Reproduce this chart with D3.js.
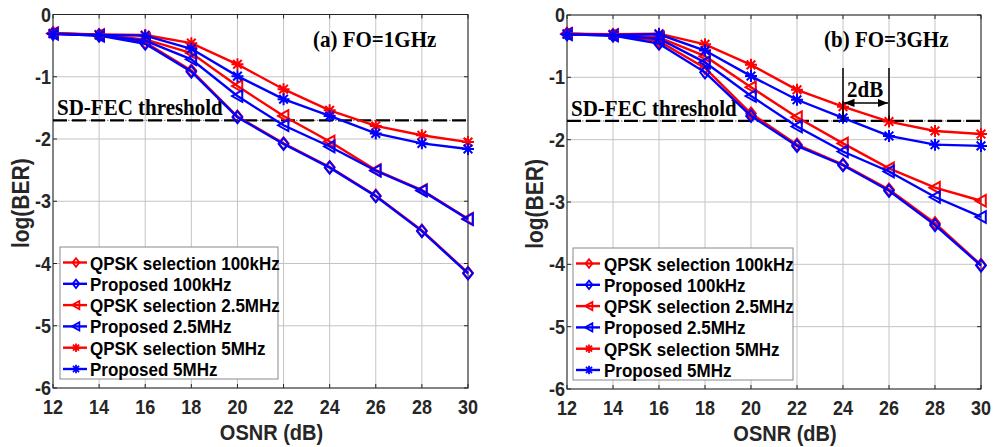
<!DOCTYPE html>
<html>
<head>
<meta charset="utf-8">
<script src="https://cdn.jsdelivr.net/npm/d3@7"></script>
<style>
  body { margin: 0; background: #fff; }
  svg { display: block; }
  .tick-label { font-family: "Liberation Sans", Arial, sans-serif; font-weight: bold; font-size: 18px; fill: #262626; }
  .axis-label { font-family: "Liberation Sans", Arial, sans-serif; font-weight: bold; fill: #262626; }
  .serif { font-family: "Liberation Serif", "Times New Roman", serif; font-weight: bold; font-size: 21px; fill: #000; }
  .legend-text { font-family: "Liberation Sans", Arial, sans-serif; font-weight: bold; font-size: 17px; fill: #000; }
</style>
</head>
<body>
<div id="chart"></div>
<script>
// OSNR values on the x axis
const osnr = [12, 14, 16, 18, 20, 22, 24, 26, 28, 30];
const xTicks = [12, 14, 16, 18, 20, 22, 24, 26, 28, 30];
const yTicks = [0, -1, -2, -3, -4, -5, -6];
const fecThreshold = -1.7;

const seriesNames = ["QPSK selection 100kHz", "Proposed 100kHz", "QPSK selection 2.5MHz",
                     "Proposed 2.5MHz", "QPSK selection 5MHz", "Proposed 5MHz"];

// (a) FO = 1GHz, log(BER)
const qpsk100kA = [-0.30, -0.33, -0.45, -0.90, -1.64, -2.07, -2.45, -2.91, -3.47, -4.15];
const prop100kA = [-0.31, -0.34, -0.47, -0.92, -1.65, -2.08, -2.46, -2.92, -3.48, -4.16];
const qpsk25MA  = [-0.30, -0.33, -0.40, -0.62, -1.15, -1.63, -2.04, -2.50, -2.82, -3.28];
const prop25MA  = [-0.31, -0.34, -0.42, -0.72, -1.31, -1.78, -2.12, -2.51, -2.83, -3.29];
const qpsk5MA   = [-0.30, -0.32, -0.33, -0.46, -0.80, -1.20, -1.54, -1.79, -1.94, -2.05];
const prop5MA   = [-0.31, -0.33, -0.34, -0.55, -0.99, -1.36, -1.63, -1.91, -2.07, -2.16];

// (b) FO = 3GHz, log(BER)
const qpsk100kB = [-0.30, -0.32, -0.42, -0.85, -1.58, -2.08, -2.40, -2.80, -3.34, -4.01];
const prop100kB = [-0.31, -0.33, -0.46, -0.92, -1.62, -2.10, -2.41, -2.82, -3.37, -4.02];
const qpsk25MB  = [-0.30, -0.32, -0.36, -0.66, -1.16, -1.64, -2.06, -2.46, -2.77, -2.98];
const prop25MB  = [-0.31, -0.33, -0.38, -0.76, -1.30, -1.79, -2.19, -2.51, -2.92, -3.24];
const qpsk5MB   = [-0.30, -0.31, -0.30, -0.47, -0.80, -1.20, -1.47, -1.71, -1.86, -1.91];
const prop5MB   = [-0.31, -0.32, -0.31, -0.57, -0.98, -1.36, -1.65, -1.94, -2.08, -2.10];

// 2dB annotation in panel (b)
const gapX = [24, 26];
const gapTop = -0.85, gapArrowY = -1.41;

const RED = "#ff0000", BLUE = "#0000ff";
const colors = [RED, BLUE, RED, BLUE, RED, BLUE];
const markers = ["diamond", "diamond", "tri", "tri", "star", "star"];

const width = 998, height = 447;
const svg = d3.select("#chart").append("svg")
    .attr("width", width)
    .attr("height", height);

// text in the original looks a bit taller than normal, stretch it vertically
function addText(parent, cls, x, y, sy, str) {
    return parent.append("text").attr("class", cls)
        .attr("transform", `translate(${x},${y}) scale(1,${sy})`)
        .text(str);
}

// marker shapes, s = scale
function markerPath(type, s) {
    if (type === "diamond") return `M0,${-6*s}L${4.8*s},0L0,${6*s}L${-4.8*s},0Z`;
    if (type === "tri") return `M${-5.5*s},0L${4.8*s},${-5.8*s}L${4.8*s},${5.8*s}Z`;
    const r = 6 * s, a = r * 0.72;
    return `M${-r},0L${r},0M0,${-r}L0,${r}M${-a},${-a}L${a},${a}M${-a},${a}L${a},${-a}`;
}

function drawPanel(p) {
    const x = d3.scaleLinear().domain([12, 30]).range([p.x0, p.x1]);
    const y = d3.scaleLinear().domain([-6, 0]).range([p.y1, p.y0]);
    const g = svg.append("g");

    // grid
    g.selectAll(".gx").data(xTicks).enter().append("line")
        .attr("x1", d => x(d)).attr("x2", d => x(d))
        .attr("y1", p.y0).attr("y2", p.y1)
        .attr("stroke", "#c4c4c4").attr("stroke-width", 1);
    g.selectAll(".gy").data(yTicks).enter().append("line")
        .attr("x1", p.x0).attr("x2", p.x1)
        .attr("y1", d => y(d)).attr("y2", d => y(d))
        .attr("stroke", "#c4c4c4").attr("stroke-width", 1);

    // box
    g.append("rect")
        .attr("x", p.x0).attr("y", p.y0)
        .attr("width", p.x1 - p.x0).attr("height", p.y1 - p.y0)
        .attr("fill", "none").attr("stroke", "#262626").attr("stroke-width", 1);

    // inward ticks
    xTicks.forEach(t => {
        g.append("line").attr("x1", x(t)).attr("x2", x(t)).attr("y1", p.y1).attr("y2", p.y1 - 4)
            .attr("stroke", "#262626");
        g.append("line").attr("x1", x(t)).attr("x2", x(t)).attr("y1", p.y0).attr("y2", p.y0 + 4)
            .attr("stroke", "#262626");
    });
    yTicks.forEach(t => {
        g.append("line").attr("x1", p.x0).attr("x2", p.x0 + 4).attr("y1", y(t)).attr("y2", y(t))
            .attr("stroke", "#262626");
        g.append("line").attr("x1", p.x1).attr("x2", p.x1 - 4).attr("y1", y(t)).attr("y2", y(t))
            .attr("stroke", "#262626");
    });

    // tick labels
    xTicks.forEach(t => {
        addText(g, "tick-label", x(t), p.y1 + 26, 1.1, t).attr("text-anchor", "middle");
    });
    yTicks.forEach(t => {
        addText(g, "tick-label", p.x0 - 2, y(t) + 7, 1.1, t).attr("text-anchor", "end");
    });

    // axis labels
    addText(g, "axis-label", (p.x0 + p.x1) / 2 + 11, p.y1 + 52, 1.1, "OSNR (dB)")
        .attr("text-anchor", "middle").style("font-size", "20px");
    g.append("text").attr("class", "axis-label")
        .attr("transform", `translate(${p.x0 - 24},${(p.y0 + p.y1) / 2 + 2}) rotate(-90) scale(1,1.1)`)
        .attr("text-anchor", "middle").style("font-size", "21px")
        .text("log(BER)");

    // SD-FEC threshold
    g.append("line")
        .attr("x1", p.x0).attr("x2", p.x1)
        .attr("y1", y(fecThreshold)).attr("y2", y(fecThreshold))
        .attr("stroke", "#666").attr("stroke-width", 1).attr("stroke-dasharray", "1.5,1.5");
    g.append("line")
        .attr("x1", p.x0).attr("x2", p.x1)
        .attr("y1", y(fecThreshold)).attr("y2", y(fecThreshold))
        .attr("stroke", "#000").attr("stroke-width", 2.2).attr("stroke-dasharray", "14,5");
    addText(g, "serif", p.x0 + 4, y(fecThreshold) - 5, 1.08, "SD-FEC threshold");

    // title inside plot
    addText(g, "serif", p.titleX, p.y0 + 32, 1.08, p.title);

    // curves
    const line = d3.line().x((d, i) => x(osnr[i])).y(d => y(d));
    p.series.forEach((s, k) => {
        g.append("path").datum(s)
            .attr("d", line)
            .attr("fill", "none").attr("stroke", colors[k]).attr("stroke-width", 2.4);
        g.selectAll(null).data(s).enter().append("path")
            .attr("transform", (d, i) => `translate(${x(osnr[i])},${y(d)})`)
            .attr("d", markerPath(markers[k], 1))
            .attr("fill", "none").attr("stroke", colors[k]).attr("stroke-width", 2);
    });

    // legend
    const lg = g.append("g");
    lg.append("rect")
        .attr("x", p.legX).attr("y", p.legY)
        .attr("width", p.legW).attr("height", 132)
        .attr("fill", "#fff").attr("stroke", "#8a8a8a").attr("stroke-width", 1);
    seriesNames.forEach((name, k) => {
        const cy = p.legY + 15.5 + k * 21.3;
        lg.append("line")
            .attr("x1", p.legX + 3).attr("x2", p.legX + 27)
            .attr("y1", cy).attr("y2", cy)
            .attr("stroke", colors[k]).attr("stroke-width", 2.4);
        lg.append("path")
            .attr("transform", `translate(${p.legX + 16},${cy})`)
            .attr("d", markerPath(markers[k], 0.7))
            .attr("fill", "none").attr("stroke", colors[k]).attr("stroke-width", 1.8);
        addText(lg, "legend-text", p.legX + p.textOff, cy + 7, 1.13, name);
    });

    return { g, x, y };
}

drawPanel({
    x0: 53, x1: 468, y0: 14.5, y1: 388,
    title: "(a) FO=1GHz", titleX: 313,
    legX: 60, legY: 247, legW: 218, textOff: 30,
    series: [qpsk100kA, prop100kA, qpsk25MA, prop25MA, qpsk5MA, prop5MA]
});

const pb = drawPanel({
    x0: 567, x1: 981, y0: 15, y1: 389,
    title: "(b) FO=3GHz", titleX: 824,
    legX: 573, legY: 248, legW: 220, textOff: 31,
    series: [qpsk100kB, prop100kB, qpsk25MB, prop25MB, qpsk5MB, prop5MB]
});

// 2dB gap annotation
const defs = svg.append("defs");
defs.append("marker").attr("id", "ah")
    .attr("viewBox", "0 0 10 10").attr("refX", 10).attr("refY", 5)
    .attr("markerWidth", 7).attr("markerHeight", 7).attr("orient", "auto-start-reverse")
    .append("path").attr("d", "M0,1L10,5L0,9Z").attr("fill", "#000");

gapX.forEach(v => {
    pb.g.append("line")
        .attr("x1", pb.x(v)).attr("x2", pb.x(v))
        .attr("y1", pb.y(gapTop)).attr("y2", pb.y(fecThreshold))
        .attr("stroke", "#000").attr("stroke-width", 1.5);
});
pb.g.append("line")
    .attr("x1", pb.x(gapX[0]) + 1).attr("x2", pb.x(gapX[1]) - 1)
    .attr("y1", pb.y(gapArrowY)).attr("y2", pb.y(gapArrowY))
    .attr("stroke", "#000").attr("stroke-width", 1.5)
    .attr("marker-start", "url(#ah)").attr("marker-end", "url(#ah)");
addText(pb.g, "serif", pb.x(gapX[0]) + 4, pb.y(gapArrowY) - 6, 1.08, "2dB");
</script>
</body>
</html>
